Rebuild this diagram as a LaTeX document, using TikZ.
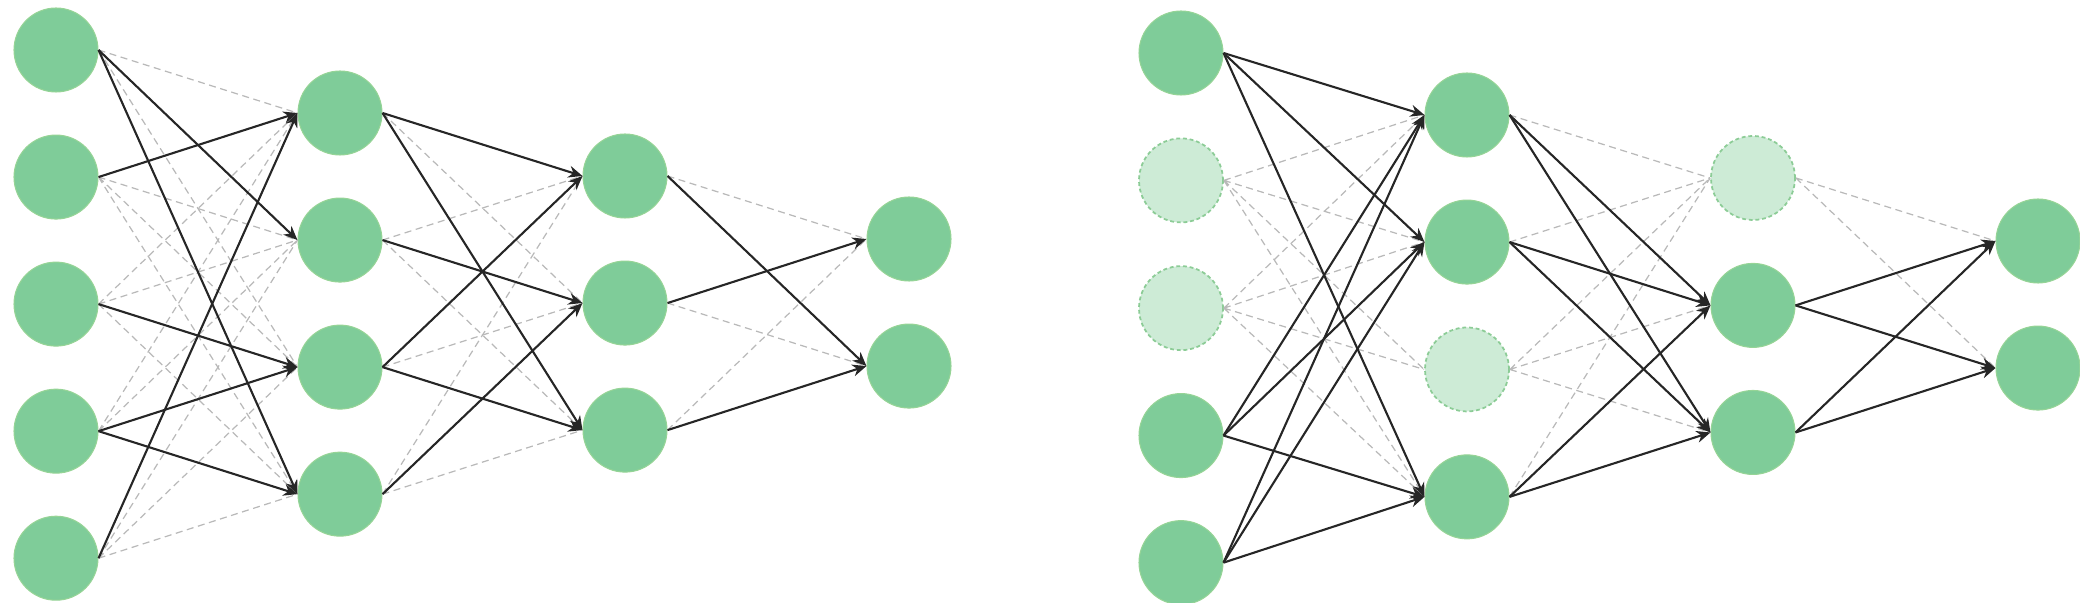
\documentclass[tikz,border=0pt]{standalone}
\usepackage{tikz}
\usetikzlibrary{arrows.meta, positioning}
\usepackage{xcolor}
\definecolor{unitgreen}{RGB}{127, 204, 153}
\definecolor{unitedge}{RGB}{150, 212, 150}
\definecolor{dropgreen}{RGB}{205, 235, 214}
\definecolor{dropedge}{RGB}{140, 204, 150}
\tikzstyle{neuron} = [circle, minimum size=0.84cm, inner sep=0pt, draw=unitedge, fill=unitgreen, line width=0.3pt]
\tikzstyle{dropneuron} = [circle, minimum size=0.84cm, inner sep=0pt, draw=dropedge, fill=dropgreen, line width=0.5pt, dash pattern=on 1.1pt off 0.8pt]
\tikzstyle{weak} = [line width=0.35pt, draw=gray!55, dash pattern=on 2pt off 1.3pt]
\tikzstyle{arrow} = [semithick,->,>={Stealth[length=4pt,width=3.4pt]}, draw=black!85]

\begin{document}
\begin{tikzpicture}
    \useasboundingbox (0,0) rectangle (20.8,6.03);

    % Nodes (plain net)
    \node (x1) [neuron] at (0.56,5.53) {};
    \node (x2) [neuron, below=0.42cm of x1] {};
    \node (x3) [neuron, below=0.42cm of x2] {};
    \node (x4) [neuron, below=0.42cm of x3] {};
    \node (x5) [neuron, below=0.42cm of x4] {};
    \node (h1) [neuron] at (3.40,4.90) {};
    \node (h2) [neuron, below=0.42cm of h1] {};
    \node (h3) [neuron, below=0.42cm of h2] {};
    \node (h4) [neuron, below=0.42cm of h3] {};
    \node (g1) [neuron] at (6.25,4.27) {};
    \node (g2) [neuron, below=0.42cm of g1] {};
    \node (g3) [neuron, below=0.42cm of g2] {};
    \node (y1) [neuron] at (9.09,3.64) {};
    \node (y2) [neuron, below=0.42cm of y1] {};

    % Nodes (dropout net)
    \node (dx1) [neuron] at (11.81,5.50) {};
    \node (dx2) [dropneuron, below=0.42cm of dx1] {};
    \node (dx3) [dropneuron, below=0.42cm of dx2] {};
    \node (dx4) [neuron, below=0.42cm of dx3] {};
    \node (dx5) [neuron, below=0.42cm of dx4] {};
    \node (dh1) [neuron] at (14.67,4.88) {};
    \node (dh2) [neuron, below=0.42cm of dh1] {};
    \node (dh3) [dropneuron, below=0.42cm of dh2] {};
    \node (dh4) [neuron, below=0.42cm of dh3] {};
    \node (dg1) [dropneuron] at (17.53,4.25) {};
    \node (dg2) [neuron, below=0.42cm of dg1] {};
    \node (dg3) [neuron, below=0.42cm of dg2] {};
    \node (dy1) [neuron] at (20.38,3.62) {};
    \node (dy2) [neuron, below=0.42cm of dy1] {};

    % Dashed links (plain net)
    \draw [weak] (x1.east) -- (h1.west) (x1.east) -- (h3.west);
    \draw [weak] (x2.east) -- (h2.west) (x2.east) -- (h3.west) (x2.east) -- (h4.west);
    \draw [weak] (x3.east) -- (h1.west) (x3.east) -- (h2.west) (x3.east) -- (h4.west);
    \draw [weak] (x4.east) -- (h1.west) (x4.east) -- (h2.west);
    \draw [weak] (x5.east) -- (h2.west) (x5.east) -- (h3.west) (x5.east) -- (h4.west);
    \draw [weak] (h1.east) -- (g2.west);
    \draw [weak] (h2.east) -- (g1.west) (h2.east) -- (g3.west);
    \draw [weak] (h3.east) -- (g2.west);
    \draw [weak] (h4.east) -- (g1.west) (h4.east) -- (g3.west);
    \draw [weak] (g1.east) -- (y1.west) (g2.east) -- (y2.west) (g3.east) -- (y1.west);

    % Arrows (plain net)
    \draw [arrow] (x1.east) -- (h2.west);
    \draw [arrow] (x1.east) -- (h4.west);
    \draw [arrow] (x2.east) -- (h1.west);
    \draw [arrow] (x3.east) -- (h3.west);
    \draw [arrow] (x4.east) -- (h3.west);
    \draw [arrow] (x4.east) -- (h4.west);
    \draw [arrow] (x5.east) -- (h1.west);
    \draw [arrow] (h1.east) -- (g1.west);
    \draw [arrow] (h1.east) -- (g3.west);
    \draw [arrow] (h2.east) -- (g2.west);
    \draw [arrow] (h3.east) -- (g1.west);
    \draw [arrow] (h3.east) -- (g3.west);
    \draw [arrow] (h4.east) -- (g2.west);
    \draw [arrow] (g1.east) -- (y2.west);
    \draw [arrow] (g2.east) -- (y1.west);
    \draw [arrow] (g3.east) -- (y2.west);

    % Dashed links (dropout net)
    \draw [weak] (dx2.east) -- (dh1.west) (dx2.east) -- (dh2.west) (dx2.east) -- (dh3.west) (dx2.east) -- (dh4.west);
    \draw [weak] (dx3.east) -- (dh1.west) (dx3.east) -- (dh2.west) (dx3.east) -- (dh3.west) (dx3.east) -- (dh4.west);
    \draw [weak] (dh1.east) -- (dg1.west) (dh2.east) -- (dg1.west) (dh4.east) -- (dg1.west);
    \draw [weak] (dh3.east) -- (dg1.west) (dh3.east) -- (dg2.west) (dh3.east) -- (dg3.west);
    \draw [weak] (dg1.east) -- (dy1.west) (dg1.east) -- (dy2.west);

    % Arrows (dropout net)
    \draw [arrow] (dx1.east) -- (dh1.west);
    \draw [arrow] (dx1.east) -- (dh2.west);
    \draw [arrow] (dx1.east) -- (dh4.west);
    \draw [arrow] (dx4.east) -- (dh1.west);
    \draw [arrow] (dx4.east) -- (dh2.west);
    \draw [arrow] (dx4.east) -- (dh4.west);
    \draw [arrow] (dx5.east) -- (dh1.west);
    \draw [arrow] (dx5.east) -- (dh2.west);
    \draw [arrow] (dx5.east) -- (dh4.west);
    \draw [arrow] (dh1.east) -- (dg2.west);
    \draw [arrow] (dh1.east) -- (dg3.west);
    \draw [arrow] (dh2.east) -- (dg2.west);
    \draw [arrow] (dh2.east) -- (dg3.west);
    \draw [arrow] (dh4.east) -- (dg2.west);
    \draw [arrow] (dh4.east) -- (dg3.west);
    \draw [arrow] (dg2.east) -- (dy1.west);
    \draw [arrow] (dg2.east) -- (dy2.west);
    \draw [arrow] (dg3.east) -- (dy1.west);
    \draw [arrow] (dg3.east) -- (dy2.west);
\end{tikzpicture}
\end{document}
